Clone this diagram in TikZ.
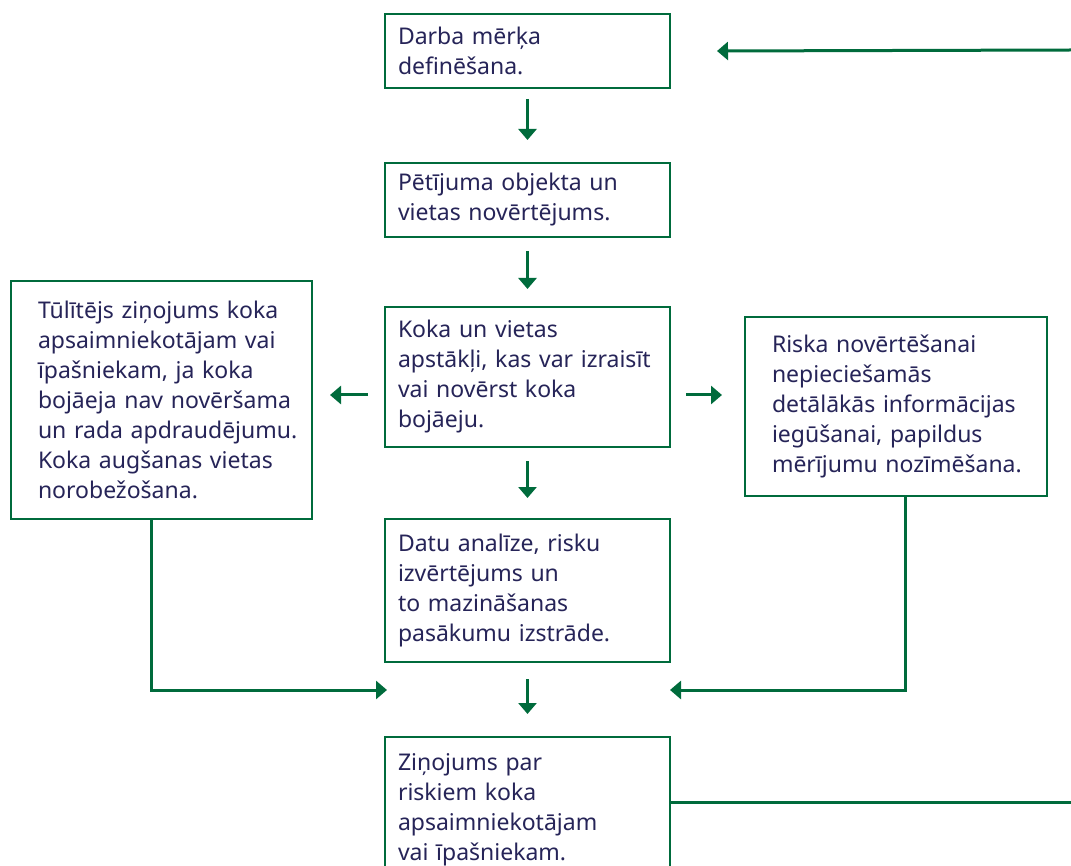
\documentclass[tikz,border=0pt]{standalone}
\usepackage{fontspec}
\setmainfont{Noto Sans}
\usetikzlibrary{arrows.meta}
\definecolor{gr}{RGB}{0,107,60}
\definecolor{tx}{RGB}{38,36,88}
\begin{document}
\begin{tikzpicture}[x=1pt,y=-1pt,
  box/.style={draw=gr, line width=2pt, fill=white, text=tx,
    font=\fontsize{23}{30}\selectfont,
    align=left, inner ysep=0pt, anchor=north west},
  cbox/.style={box, inner xsep=13pt, text width=259pt},
  sbox/.style={box, inner xsep=27pt},
  arr/.style={draw=gr, line width=3pt, -{Triangle[length=11pt,width=18pt]}},
  ln/.style={draw=gr, line width=3pt}]
\useasboundingbox (0,0) rectangle (1071,866);

\node[cbox, minimum height=74pt] (b1) at (384,13)
  {Darba~mērķa\\definēšana.};
\node[cbox, minimum height=74pt] (b2) at (384,162)
  {Pētījuma~objekta~un\\vietas~novērtējums.};
\node[cbox, minimum height=140pt] (b3) at (384,306)
  {Koka~un~vietas\\apstākļi,~kas~var~izraisīt\\vai~novērst~koka\\bojāeju.};
\node[cbox, minimum height=143pt] (b4) at (384,518)
  {Datu~analīze,~risku\\izvērtējums~un\\to~mazināšanas\\pasākumu~izstrāde.};
\node[cbox, minimum height=146pt] (b5) at (384,736)
  {Ziņojums~par\\riskiem~koka\\apsaimniekotājam\\vai~īpašniekam.};
\node[sbox, text width=247pt, minimum height=238pt] (lb) at (10,280)
  {\mbox{Tūlītējs ziņojums koka}\\\mbox{apsaimniekotājam vai}\\\mbox{īpašniekam, ja koka}\\\mbox{bojāeja nav novēršama}\\\mbox{un rada apdraudējumu.}\\\mbox{Koka augšanas vietas}\\\mbox{norobežošana.}};
\node[sbox, text width=248pt, minimum height=179pt] (rb) at (744,316)
  {Riska~novērtēšanai\\nepieciešamās\\detālākās~informācijas\\iegūšanai,~papildus\\mērījumu~nozīmēšana.};

% vertical flow
\draw[arr, shorten <=10pt, shorten >=22pt] (b1) -- (b2);
\draw[arr, shorten <=13pt, shorten >=17pt] (b2) -- (b3);
\draw[arr, shorten <=13pt, shorten >=20pt] (b3) -- (b4);
\draw[arr, shorten <=16pt, shorten >=22pt] (b4) -- (b5);

% side arrows
\coordinate (la1) at (368,395);
\coordinate (la2) at (330,395);
\coordinate (ra1) at (686,395);
\coordinate (ra2) at (722,395);
\draw[arr] (la1) -- (la2);
\draw[arr] (ra1) -- (ra2);

% returns to bottom
\coordinate (lbend) at (151,690);
\coordinate (lin) at (387,690);
\draw[arr] (lbend |- lb.south) -- (lbend) -- (lin);
\coordinate (rbend) at (905,690);
\coordinate (rin) at (670,690);
\draw[arr] (rbend |- rb.south) -- (rbend) -- (rin);

% feedback loop
\coordinate (tr) at (1071,50);
\draw[arr] (tr) -- ([xshift=46pt]b1.east);
\coordinate (br) at (1071,802);
\draw[ln] (b5.east |- br) -- (br);
\end{tikzpicture}
\end{document}
